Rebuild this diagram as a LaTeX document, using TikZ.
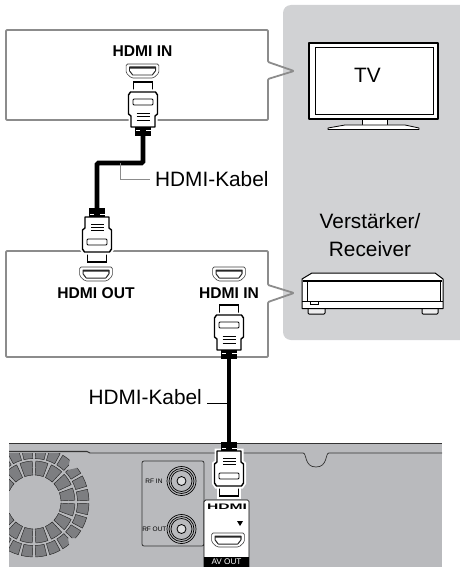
\documentclass[tikz,border=0pt]{standalone}
\usepackage{fontspec}
\usepackage{graphicx}
\usetikzlibrary{positioning}
\setmainfont{Liberation Sans}
\definecolor{grauFeld}{HTML}{D1D2D4}
\definecolor{grauRahmen}{HTML}{8C8C8C}
\definecolor{grauGeraet}{HTML}{B9BABD}
\definecolor{grauZelle}{HTML}{7D7E81}

\begin{document}
\begin{tikzpicture}[
            x=1pt, y=-1pt,
            node distance=4pt,
            feld/.style={fill=grauFeld, rounded corners=8pt},
            rahmen/.style={draw=grauRahmen, line width=1.8pt, rounded corners=1pt, line join=round},
            kabel/.style={line width=4.6pt, black, rounded corners=1.5pt},
            leiter/.style={line width=0.9pt},
            beschriftung/.style={font=\fontsize{20.8}{28}\selectfont, inner sep=5pt, align=center},
            buchsetext/.style={font=\fontsize{15.6}{18}\selectfont\bfseries, inner sep=0pt},
            rftext/.style={font=\fontsize{6.5}{8}\selectfont, inner sep=0pt},
            zelle/.style={fill=grauZelle, draw=black!85, line width=0.45pt, line join=round},
            geraet/.style={fill=white, draw=black, line width=1pt, line join=round},
            buchse/.style={minimum width=34pt, minimum height=15pt, inner sep=0pt, path picture={
                \begin{scope}[shift={(path picture bounding box.center)}]
                \draw[fill=white, line width=0.6pt, draw=black!75, rounded corners=1.5pt] (-16.4,-7) -- (16.4,-7) -- (16.4,2) -- (11,7) -- (-11,7) -- (-16.4,2) -- cycle;
                \fill[black!85, rounded corners=0.5pt] (-13.5,-4.5) -- (13.5,-4.5) -- (13.5,0) -- (10,4.5) -- (-10,4.5) -- (-13.5,0) -- cycle;
                \fill[white] (-12.3,-2.3) -- (12.3,-2.3) -- (12.3,-0.3) -- (9.3,3.6) -- (-9.3,3.6) -- (-12.3,-0.3) -- cycle;
                \end{scope}
            }},
            stecker/.pic={
                \draw[fill=white, line width=1.4pt, preaction={draw=white, line width=5pt}] (-9.5,0) rectangle (9.5,11);
                \draw[fill=white, line width=1.4pt, line join=round, preaction={draw=white, line width=5pt}]
                    (-12.5,10) -- (12.5,10) -- (14.5,13) -- (14.5,32) -- (12,34) -- (12,45) -- (-12,45) -- (-12,34) -- (-14.5,32) -- (-14.5,13) -- cycle;
                \fill[black] (-8,45) rectangle (8,54);
                \draw[white, line width=0.5pt] (-7.5,48) -- (-3,48) (3,48) -- (7.5,48);
                \draw[fill=white, line width=0.9pt, rounded corners=1pt] (-10,17) rectangle (10,23);
                \foreach \zeile in {31.5,34.5,38} \draw[line width=0.8pt] (-6.5,\zeile) -- (6.5,\zeile);
                \coordinate (-ende) at (0,54);
            }
        ]
\useasboundingbox (0,0) rectangle (460,567);
\fill[feld] (283,5) rectangle (470,340);
\draw[rahmen] (6,30) -- (268,30) -- (268,62) -- (294,71) -- (268,79) -- (268,120) -- (6,120) -- cycle;
\draw[rahmen] (6,251) -- (268,251) -- (268,285) -- (294,293) -- (268,302) -- (268,357) -- (6,357) -- cycle;

\draw[geraet, line width=0.8pt] (362,119) rectangle (387,125);
\draw[geraet, line width=0.8pt] (328,128) -- (345,125) -- (405,125) -- (419,128) -- (419,129.5) -- (328,129.5) -- cycle;
\draw[geraet, line width=1.6pt] (309,43) rectangle (438,119);
\draw[line width=0.5pt] (315,47) rectangle (433,114);
\node[beschriftung] (tv) at (367.5,75.5) {TV};
\node[beschriftung] (verstaerker) at (370,235) {Verstärker/\\Receiver};

\draw[geraet, fill=grauFeld!40!white, rounded corners=1pt] (308,306) rectangle (325,314);
\draw[geraet, fill=grauFeld!40!white, rounded corners=1pt] (422,306) rectangle (438,314);
\draw[geraet] (302,308.5) -- (302,279) -- (312,273) -- (435,273) -- (443,279) -- (443,308.5) -- cycle;
\draw[line width=2pt] (303,281) -- (442,281);
\draw[line width=0.6pt] (307,282) -- (307,301) (440,282) -- (440,301);
\draw[line width=0.8pt] (302,301.5) -- (443,301.5);
\draw[line width=0.5pt] (310,301.5) rectangle (318,304.5);

\node[buchse] (hdmiin1) at (142.5,71) {};
\node[buchsetext, above=7pt of hdmiin1] (text1) {HDMI IN};
\node[buchse] (hdmiout) at (96,274) {};
\node[buchsetext, below=6pt of hdmiout] (text2) {HDMI OUT};
\node[buchse] (hdmiin2) at (229,274) {};
\node[buchsetext, below=6pt of hdmiin2] (text3) {HDMI IN};

\fill[grauGeraet] (9,443) rectangle (442,567);
\draw[line width=1pt, black!80] (9,443.5) -- (442,443.5);
\draw[line width=1.1pt, black!80] (9,451.5) -- (87,451.5) -- (90,453);
\draw[line width=0.7pt, black!80] (90,453) -- (303,453) .. controls (307,453) and (304,467) .. (316,467) .. controls (328,467) and (325,453) .. (329,453) -- (442,453);
\begin{scope}
\clip (9,453) -- (71,453) -- (68,470) -- (85,466) -- (89,474) -- (89,532) -- (84,538) -- (68,538) -- (71,557) -- (9,557) -- cycle;
\begin{scope}[shift={(34,502)}]
\foreach \winkel in {0,22.5,...,337.5}
    \draw[zelle] (\winkel+2.5:27) arc (\winkel+2.5:\winkel+20:27) -- (\winkel+20:41) arc (\winkel+20:\winkel+2.5:41) -- cycle;
\foreach \winkel in {0,15,...,345}
    \draw[zelle] (\winkel+1.6:43.5) arc (\winkel+1.6:\winkel+13.4:43.5) -- (\winkel+13.4:55) arc (\winkel+13.4:\winkel+1.6:55) -- cycle;
\end{scope}
\end{scope}

\draw[line width=0.8pt, black!80, rounded corners=2pt] (142,461) rectangle (204,546);
\foreach \name/\yy in {rfin/481,rfout/529} {
    \node[circle, draw, line width=0.7pt, minimum size=29pt, inner sep=0pt] (\name) at (181.5,\yy) {};
    \node[circle, draw, line width=0.7pt, minimum size=25pt, inner sep=0pt] at (\name) {};
    \node[circle, draw, line width=0.7pt, minimum size=21pt, inner sep=0pt] at (\name) {};
    \node[circle, draw, line width=0.8pt, fill=grauGeraet!50!white, minimum size=9pt, inner sep=0pt] at (\name) {};
}
\node[rftext, left=4pt of rfin] (rfintext) {RF IN};
\node[rftext, left=0pt of rfout] (rfouttext) {RF OUT};

\draw[fill=white, line width=0.7pt, rounded corners=1.5pt] (204,500) rectangle (249,575);
\node[inner sep=0pt] (logo) at (227,506.5) {\resizebox{40pt}{5.5pt}{\bfseries HDMI}};
\fill (237,521) -- (243,521) -- (240,526) -- cycle;
\node[buchse] (avout) at (228,540) {};
\node[fill=black, text=white, font=\fontsize{8.2}{10}\selectfont, minimum width=45pt, minimum height=10pt, inner sep=0pt] (avtext) at (226.5,562) {AV OUT};

\coordinate (knick1) at (143,163);
\coordinate (knick2) at (97,163);
\coordinate (abzweig1) at (120,163);
\coordinate (abzweig2) at (229,403);
\pic (stecker1) at (143,82) {stecker};
\pic[rotate=180] (stecker2) at (97,262) {stecker};
\pic (stecker3) at (229,305) {stecker};
\pic[rotate=180] (stecker4) at (229,496) {stecker};
\draw[kabel] (stecker1-ende) -- (knick1) -- (knick2) -- (stecker2-ende);
\draw[kabel, line width=4pt] (stecker3-ende) -- (stecker4-ende);

\node[beschriftung, anchor=west] (kabel1) at (150,179) {HDMI-Kabel};
\node[beschriftung, anchor=east] (kabel2) at (207,397) {HDMI-Kabel};
\draw[leiter, draw=grauRahmen] (abzweig1) |- (kabel1.west);
\draw[leiter] (abzweig2) -- (kabel2.east |- abzweig2);
\end{tikzpicture}
\end{document}
